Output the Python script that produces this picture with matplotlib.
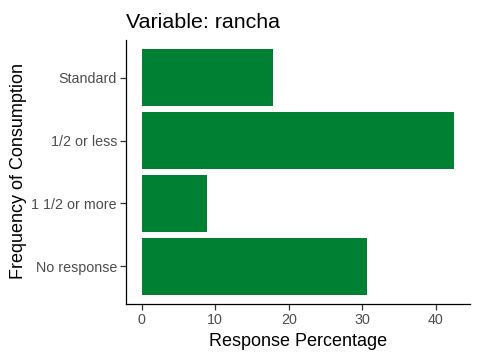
import matplotlib
matplotlib.use("Agg")
import matplotlib.pyplot as plt

# Data (top to bottom)
categories = ["Standard", "1/2 or less", "1 1/2 or more", "No response"]
percentages = [17.8, 42.5, 8.9, 30.7]
x_ticks = [0, 10, 20, 30, 40]

plt.rcParams['font.family'] = ['Liberation Sans', 'DejaVu Sans']

fig = plt.figure(figsize=(4.8, 3.6), dpi=100)
ax = fig.add_axes([0.2625, 0.1556, 0.7165, 0.7333])

pos = list(range(len(categories), 0, -1))
ax.barh(pos, percentages, height=0.9, color='#008033')

ax.set_yticks(pos)
ax.set_yticklabels(categories)
ax.set_xticks(x_ticks)
ax.set_ylim(0.4, len(categories) + 0.6)
ax.set_xlim(-0.05 * max(percentages), 1.05 * max(percentages))

for s in ['top', 'right']:
    ax.spines[s].set_visible(False)
for s in ['left', 'bottom']:
    ax.spines[s].set_linewidth(0.9)
    ax.spines[s].set_color('black')

ax.tick_params(axis='both', length=4, width=0.9, color='#333333',
               labelsize=10.3, labelcolor='#4D4D4D', pad=2.5)

fig.text(0.2625, 1 - 27.5 / 360, "Variable: rancha", fontsize=15.4,
         ha='left', va='baseline', color='black')
fig.text(298 / 480, 1 - 345.5 / 360, "Response Percentage", fontsize=13,
         ha='center', va='baseline', color='black')
fig.text(18.5 / 480, 1 - 171 / 360, "Frequency of Consumption", fontsize=13,
         ha='center', va='center', rotation=90, color='black')

fig.savefig("out.png", dpi=100)
